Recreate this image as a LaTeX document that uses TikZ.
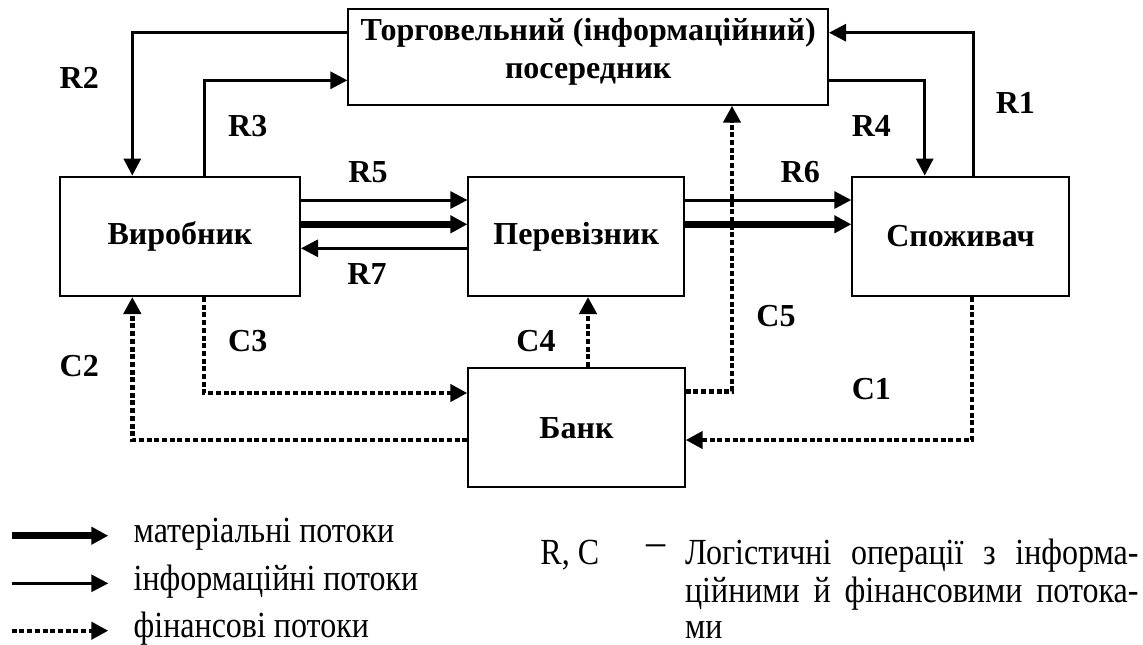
\documentclass[tikz,border=0pt]{standalone}
\usepackage{fontspec}
\usepackage{graphicx}
\setmainfont{Liberation Serif}
\usetikzlibrary{arrows.meta}
\newcommand{\tallbox}[1]{\scalebox{1}[1.15]{#1}}

\begin{document}
\begin{tikzpicture}[x=0.5pt,y=-0.5pt,
        box/.style={draw,line width=1pt,inner sep=0pt,align=center,font=\bfseries\fontsize{16}{19}\selectfont},
        info/.style={line width=1.5pt,arrows={-Triangle[length=8.5pt,width=8.5pt]}},
        matflow/.style={line width=3.5pt,arrows={-Triangle[length=8.5pt,width=8.5pt]}},
        fin/.style={line width=2.2pt,dash pattern=on 2.5pt off 1.35pt,arrows={-Triangle[length=8.5pt,width=8.5pt]}},
        lbl/.style={font=\bfseries\fontsize{16}{19}\selectfont},
        legend/.style={anchor=base west,inner sep=0pt,font=\fontsize{16}{19}\selectfont}]
        \useasboundingbox (0,0) rectangle (1143,644);
        % boxes
        \node[box,minimum width=239.8pt,minimum height=47.7pt,text depth=9pt] (trade) at (588.2,57) {Торговельний (інформаційний)\\посередник};
        \node[box,minimum width=120pt,minimum height=59.7pt] (maker) at (180,236.3) {Виробник};
        \node[box,minimum width=107.8pt,minimum height=59.7pt] (carrier) at (576.2,236.3) {Перевізник};
        \node[box,minimum width=108.2pt,minimum height=59.7pt] (buyer) at (960.5,236.3) {Споживач};
        \node[box,minimum width=108.2pt,minimum height=59.7pt] (bank) at (576.5,427.7) {Банк};
        % information flows
        \draw[info] (trade.west |- 0,32.7) -| (132.3,0 |- maker.north);
        \draw[info] (204,0 |- maker.north) |- (trade.west |- 0,80.3);
        \draw[info] (973,0 |- buyer.north) |- (trade.east |- 0,32.7);
        \draw[info] (trade.east |- 0,80.3) -| (924.7,0 |- buyer.north);
        \draw[info] (maker.east |- 0,200) -- (carrier.west |- 0,200);
        \draw[info] (carrier.west |- 0,248.3) -- (maker.east |- 0,248.3);
        \draw[info] (carrier.east |- 0,200) -- (buyer.west |- 0,200);
        % material flows
        \draw[matflow] (maker.east |- 0,224.3) -- (carrier.west |- 0,224.3);
        \draw[matflow] (carrier.east |- 0,224.3) -- (buyer.west |- 0,224.3);
        % financial flows
        \draw[fin] (bank.east |- 0,391.3) -| (732,0 |- trade.south);
        \draw[fin] (972,0 |- buyer.south) |- (bank.east |- 0,440);
        \draw[fin] (588,0 |- bank.north) -- (588,0 |- carrier.south);
        \draw[fin] (204,0 |- maker.south) |- (bank.west |- 0,393);
        \draw[fin] (bank.west |- 0,440) -| (132.3,0 |- maker.south);
        % labels
        \node[lbl] (R1) at (1015.3,102.5) {R1};
        \node[lbl] (R2) at (79.3,78.3) {R2};
        \node[lbl] (R3) at (247.7,125.8) {R3};
        \node[lbl] (R4) at (871.3,125.8) {R4};
        \node[lbl] (R5) at (368,172.5) {R5};
        \node[lbl] (R6) at (800.2,172.5) {R6};
        \node[lbl] (R7) at (367,274.2) {R7};
        \node[lbl] (C1) at (871.3,389) {C1};
        \node[lbl] (C2) at (79.3,366.5) {C2};
        \node[lbl] (C3) at (247.7,340.7) {C3};
        \node[lbl] (C4) at (536,340.7) {C4};
        \node[lbl] (C5) at (776,316) {C5};
        % legend
        \coordinate (m1) at (11.7,535.7); \coordinate (m2) at (108.3,535.7);
        \coordinate (i1) at (11.7,583.3); \coordinate (i2) at (108.3,583.3);
        \coordinate (f1) at (11.7,630.7); \coordinate (f2) at (108.3,630.7);
        \draw[matflow] (m1) -- (m2);
        \draw[info] (i1) -- (i2);
        \draw[fin] (f1) -- (f2);
        \node[legend] (tm) at (133.3,542.3) {\tallbox{матеріальні потоки}};
        \node[legend] (ti) at (133.3,590.7) {\tallbox{інформаційні потоки}};
        \node[legend] (tf) at (133.3,637.3) {\tallbox{фінансові потоки}};
        \node[legend] (rc) at (540,564) {\tallbox{R, C}};
        \node[legend] (dash) at (646,564) {\raisebox{4.5pt}{\scalebox{1.2}[1.3]{–}}};
        \node[legend] (l1) at (684.7,564) {\tallbox{\makebox[226.7pt][s]{Логістичні операції з інформа-}}};
        \node[legend] (l2) at (684.7,602.3) {\tallbox{\makebox[226.7pt][s]{ційними й фінансовими потока-}}};
        \node[legend] (l3) at (684.7,638) {\tallbox{ми}};
      \end{tikzpicture}
\end{document}
